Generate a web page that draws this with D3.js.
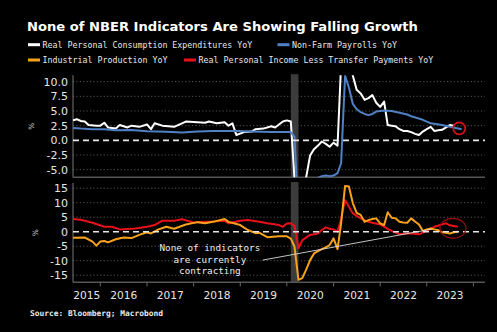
<!DOCTYPE html>
<html><head><meta charset="utf-8">
<script src="https://cdn.jsdelivr.net/npm/d3@7"></script>
<style>
html,body{margin:0;padding:0;background:#000;}
svg{display:block;}
</style></head>
<body>
<script>
// ---------- DATA ----------
const years = [2015,2016,2017,2018,2019,2020,2021,2022,2023];
const topTicks = [-5,-2.5,0,2.5,5,7.5,10];
const bottomTicks = [-15,-10,-5,0,5,10,15];
const recession = ["2020-02","2020-04"];

const pce = [["2015-06",3.4],["2015-07",3.6],["2015-08",3.3],["2015-09",3.2],["2015-10",2.6],["2015-12",2.5],["2016-01",2.5],["2016-02",3.0],["2016-03",2.2],["2016-05",2.0],["2016-06",2.6],["2016-08",2.2],["2016-09",2.5],["2016-11",2.3],["2017-01",2.7],["2017-02",1.9],["2017-03",2.9],["2017-05",2.5],["2017-08",2.3],["2017-09",2.6],["2017-11",3.2],["2018-02",3.1],["2018-04",3.0],["2018-05",3.2],["2018-07",2.9],["2018-09",3.1],["2018-10",2.5],["2018-11",2.9],["2018-12",0.9],["2019-02",1.4],["2019-04",1.5],["2019-05",1.9],["2019-07",2.0],["2019-09",2.4],["2019-10",2.2],["2019-12",3.2],["2020-01",3.4],["2020-02",3.2],["2020-03",-6.6],["2020-04",-16.0],["2020-05",-10.5],["2020-06",-6.2],["2020-07",-2.6],["2020-08",-1.5],["2020-09",-0.9],["2020-10",-0.2],["2020-11",-0.6],["2020-12",-1.1],["2021-01",-0.4],["2021-02",-0.9],["2021-03",13.0],["2021-04",17.0],["2021-05",13.5],["2021-06",11.0],["2021-07",8.6],["2021-08",8.0],["2021-09",6.9],["2021-10",7.2],["2021-11",7.7],["2021-12",6.4],["2022-01",5.7],["2022-02",6.6],["2022-03",2.6],["2022-04",2.5],["2022-05",2.4],["2022-06",1.9],["2022-07",1.6],["2022-08",1.6],["2022-09",1.4],["2022-10",1.1],["2022-11",0.9],["2022-12",1.5],["2023-01",1.9],["2023-02",2.3],["2023-03",1.6],["2023-04",1.7],["2023-05",1.8],["2023-06",2.2],["2023-07",2.6],["2023-08",2.5]];

const payrolls = [["2015-06",2.1],["2015-08",2.0],["2015-11",1.9],["2016-02",1.9],["2016-05",1.7],["2016-09",1.75],["2017-01",1.55],["2017-06",1.45],["2017-10",1.35],["2018-02",1.5],["2018-06",1.6],["2018-12",1.6],["2019-04",1.5],["2019-09",1.4],["2020-01",1.4],["2020-02",1.4],["2020-03",0.6],["2020-04",-13.0],["2020-05",-11.3],["2020-06",-8.6],["2020-07",-7.4],["2020-08",-6.7],["2020-09",-6.4],["2020-10",-6.1],["2020-11",-6.0],["2020-12",-6.1],["2021-01",-6.0],["2021-02",-5.6],["2021-03",-3.9],["2021-04",11.0],["2021-05",9.0],["2021-06",6.2],["2021-07",5.3],["2021-08",4.8],["2021-09",4.5],["2021-10",4.3],["2021-11",4.5],["2021-12",4.9],["2022-01",5.0],["2022-02",5.1],["2022-04",5.0],["2022-06",4.7],["2022-08",4.4],["2022-09",4.1],["2022-12",3.5],["2023-02",2.9],["2023-05",2.6],["2023-07",2.3],["2023-10",1.9]];

const industrial = [["2015-06",-2.1],["2015-09",-2.0],["2015-11",-3.4],["2015-12",-4.8],["2016-01",-3.4],["2016-02",-3.2],["2016-03",-3.7],["2016-05",-2.6],["2016-07",-2.0],["2016-09",-2.2],["2016-11",-1.1],["2017-01",-0.2],["2017-02",-0.6],["2017-04",0.8],["2017-06",1.7],["2017-08",1.0],["2017-11",2.5],["2018-02",3.3],["2018-04",2.9],["2018-06",3.4],["2018-09",4.4],["2018-10",3.4],["2019-01",2.3],["2019-03",0.6],["2019-05",-0.5],["2019-06",-0.4],["2019-08",-1.9],["2019-11",-1.6],["2020-01",-1.6],["2020-02",-2.4],["2020-03",-5.2],["2020-04",-16.6],["2020-05",-16.0],["2020-06",-13.0],["2020-07",-9.8],["2020-08",-7.5],["2020-09",-6.7],["2020-10",-6.0],["2020-11",-5.4],["2020-12",-4.6],["2021-01",-2.3],["2021-02",-6.0],["2021-03",2.9],["2021-04",15.8],["2021-05",15.6],["2021-06",9.8],["2021-07",6.5],["2021-08",5.8],["2021-09",3.4],["2021-10",4.0],["2021-11",4.4],["2021-12",4.6],["2022-01",2.9],["2022-02",2.3],["2022-03",6.7],["2022-04",4.8],["2022-05",4.6],["2022-06",3.4],["2022-07",3.2],["2022-08",3.1],["2022-09",4.6],["2022-10",3.5],["2022-11",2.5],["2022-12",0.3],["2023-01",0.8],["2023-02",1.1],["2023-03",0.8],["2023-04",0.5],["2023-05",-0.2],["2023-06",-0.4],["2023-07",-0.6],["2023-08",-0.2],["2023-09",0.0]];

const income = [["2015-06",4.4],["2015-08",4.1],["2015-11",3.1],["2016-02",1.7],["2016-04",1.7],["2016-06",0.8],["2016-10",1.1],["2017-01",1.7],["2017-03",2.3],["2017-05",3.8],["2017-08",3.8],["2017-10",4.3],["2018-01",3.2],["2018-04",3.4],["2018-06",3.5],["2018-09",3.8],["2018-10",2.9],["2019-01",3.8],["2019-03",4.0],["2019-06",3.4],["2019-08",2.9],["2019-11",2.3],["2019-12",1.7],["2020-01",2.8],["2020-02",2.9],["2020-03",2.0],["2020-04",-5.7],["2020-05",-2.9],["2020-07",-1.1],["2020-09",-0.6],["2020-10",0.6],["2020-11",1.5],["2020-12",1.0],["2021-01",0.8],["2021-02",0.0],["2021-03",4.5],["2021-04",10.9],["2021-06",6.3],["2021-08",4.6],["2021-10",3.4],["2021-11",3.1],["2022-01",2.5],["2022-03",1.0],["2022-04",0.3],["2022-06",-0.9],["2022-08",-0.6],["2022-09",-0.6],["2022-11",-0.9],["2023-01",0.3],["2023-03",1.7],["2023-06",2.9],["2023-07",2.2],["2023-09",1.7]];

const legendLabels = ["Real Personal Consumption Expenditures YoY","Non-Farm Payrolls YoY","Industrial Production YoY","Real Personal Income Less Transfer Payments YoY"];
const colors = {pce:"#ffffff", payrolls:"#4f81c4", industrial:"#f7a21b", income:"#e8101a"};

// ---------- CHART ----------
const W=497, H=332;
const parse = d3.timeParse("%Y-%m");
const svg = d3.select("body").append("svg").attr("width",W).attr("height",H);
svg.append("rect").attr("width",W).attr("height",H).attr("fill","#000");

const x = d3.scaleTime().domain([new Date(2015,5,1), new Date(2024,3,1)]).range([73,485]);
const yT = d3.scaleLinear().domain([-6.3,11.1]).range([177.3,75.2]);
const yB = d3.scaleLinear().domain([-17.45,16.8]).range([282.3,183]);

const defs = svg.append("defs");
defs.append("clipPath").attr("id","cT").append("rect").attr("x",73).attr("y",yT.range()[1]).attr("width",412).attr("height",yT.range()[0]-yT.range()[1]);
defs.append("clipPath").attr("id","cB").append("rect").attr("x",73).attr("y",yB.range()[1]).attr("width",412).attr("height",yB.range()[0]-yB.range()[1]);

function panel(y, ticks, fmt, clipId, series, labelY){
  const g = svg.append("g");
  // grid
  g.selectAll(".grid").data(ticks.filter(d=>d!==0)).enter().append("line")
    .attr("x1",73).attr("x2",485).attr("y1",d=>y(d)).attr("y2",d=>y(d))
    .attr("stroke","#6a6a6a").attr("stroke-width",0.8).attr("stroke-dasharray","1.2,2.2");
  // recession
  g.append("rect").attr("x",x(parse(recession[0]))).attr("width",x(parse(recession[1]))-x(parse(recession[0])))
    .attr("y",y.range()[1]-1).attr("height",y.range()[0]-y.range()[1]+1).attr("fill","#3c3c3c");
  // axis
  const ax = g.append("g").attr("transform","translate(73,0)")
    .call(d3.axisLeft(y).tickValues(ticks).tickFormat(fmt).tickSize(0).tickPadding(5));
  ax.select(".domain").remove();
  ax.selectAll("text").attr("fill","#e6e6e6").style("font-family","DejaVu Sans").style("font-size","11px");
  g.append("line").attr("x1",73).attr("x2",73).attr("y1",y.range()[1]).attr("y2",y.range()[0]).attr("stroke","#777").attr("stroke-width",1);
  g.append("line").attr("x1",73).attr("x2",485).attr("y1",y.range()[0]).attr("y2",y.range()[0]).attr("stroke","#555").attr("stroke-width",1.5);
  // % label
  g.append("text").attr("transform",`translate(${labelY},${(y.range()[0]+y.range()[1])/2}) rotate(-90)`)
    .attr("text-anchor","middle").attr("dominant-baseline","middle")
    .attr("fill","#cfcfcf").style("font-family","DejaVu Sans").style("font-size","7.5px").text("%");
  // lines
  const lg = g.append("g").attr("clip-path",`url(#${clipId})`);
  const line = d3.line().x(d=>x(parse(d[0]))).y(d=>y(d[1]));
  series.forEach(s=>{
    lg.append("path").datum(s.data).attr("d",line).attr("fill","none")
      .attr("stroke",s.color).attr("stroke-width",2).attr("stroke-linejoin","round");
  });
  // zero line
  g.append("line").attr("x1",73).attr("x2",485).attr("y1",y(0)).attr("y2",y(0))
    .attr("stroke","#e8e8e8").attr("stroke-width",1.6).attr("stroke-dasharray","6,4");
  return g;
}

panel(yT, topTicks, d=>d.toFixed(1), "cT", [{data:pce,color:colors.pce},{data:payrolls,color:colors.payrolls}], 32);
panel(yB, bottomTicks, d=>String(d), "cB", [{data:income,color:colors.income},{data:industrial,color:colors.industrial}], 36);

// x axis ticks & labels
const xg = svg.append("g");
const [d0,d1] = x.domain();
years.concat([2024]).forEach(yr=>{
  const d = new Date(yr,0,1);
  if(d> d0 && d<=d1){
    xg.append("line").attr("x1",x(d)).attr("x2",x(d)).attr("y1",282.3).attr("y2",286.5).attr("stroke","#666").attr("stroke-width",1);
  }
});
years.forEach(yr=>{
  const a = Math.max(x(new Date(yr,0,1)), x(d0));
  const b = Math.min(x(new Date(yr+1,0,1)), x(d1));
  xg.append("text").attr("x",(a+b)/2).attr("y",299).attr("text-anchor","middle")
    .attr("fill","#e6e6e6").style("font-family","DejaVu Sans").style("font-size","10.6px").text(yr);
});

// annotation
const ann = svg.append("g");
ann.append("line").attr("x1",x(new Date(2019,5,25))).attr("y1",yB(-9.8))
  .attr("x2",x(new Date(2023,1,10))).attr("y2",yB(0.9)).attr("stroke","#d8d8d8").attr("stroke-width",0.9);
const annX = x(new Date(2018,4,8));
["None of indicators","are currently","contracting"].forEach((t,i)=>{
  ann.append("text").attr("x",annX).attr("y",yB(-5.6)+3.2+i*11.6).attr("text-anchor","middle")
    .attr("fill","#eeeeee").style("font-family","DejaVu Sans Mono").style("font-size","9.3px").text(t);
});
// circles
svg.append("circle").attr("cx",x(new Date(2023,8,12))).attr("cy",yT(2.04)).attr("r",6)
  .attr("fill","none").attr("stroke","#e0101a").attr("stroke-width",1.6);
svg.append("ellipse").attr("cx",x(new Date(2023,6,25))).attr("cy",yB(1.17)).attr("rx",13).attr("ry",10)
  .attr("fill","none").attr("stroke","#9a0c10").attr("stroke-width",1.2);

// title
const title = svg.append("text").attr("x",27).attr("y",30.7).attr("fill","#fff")
  .style("font-family","DejaVu Sans").style("font-weight","bold").style("font-size","13px")
  .text("None of NBER Indicators Are Showing Falling Growth");
const tl = title.node().getComputedTextLength();
title.style("font-size",(13*391/tl).toFixed(2)+"px");

// legend
const leg = svg.append("g");
const legendItems = [
  {x:28, y:44.7, c:colors.pce, t:legendLabels[0]},
  {x:277.5, y:44.7, c:colors.payrolls, t:legendLabels[1]},
  {x:28, y:60, c:colors.industrial, t:legendLabels[2]},
  {x:184, y:60, c:colors.income, t:legendLabels[3]}
];
legendItems.forEach(it=>{
  leg.append("line").attr("x1",it.x).attr("x2",it.x+12).attr("y1",it.y).attr("y2",it.y).attr("stroke",it.c).attr("stroke-width",3);
  leg.append("text").attr("x",it.x+14.5).attr("y",it.y+2.9).attr("fill","#e8e8e8")
    .style("font-family","DejaVu Sans Mono").style("font-size","8.3px").text(it.t);
});

// source
svg.append("text").attr("x",30).attr("y",316).attr("fill","#e8e8e8")
  .style("font-family","DejaVu Sans Mono").style("font-weight","bold").style("font-size","7.9px")
  .text("Source: Bloomberg; Macrobond");
</script>
</body></html>
